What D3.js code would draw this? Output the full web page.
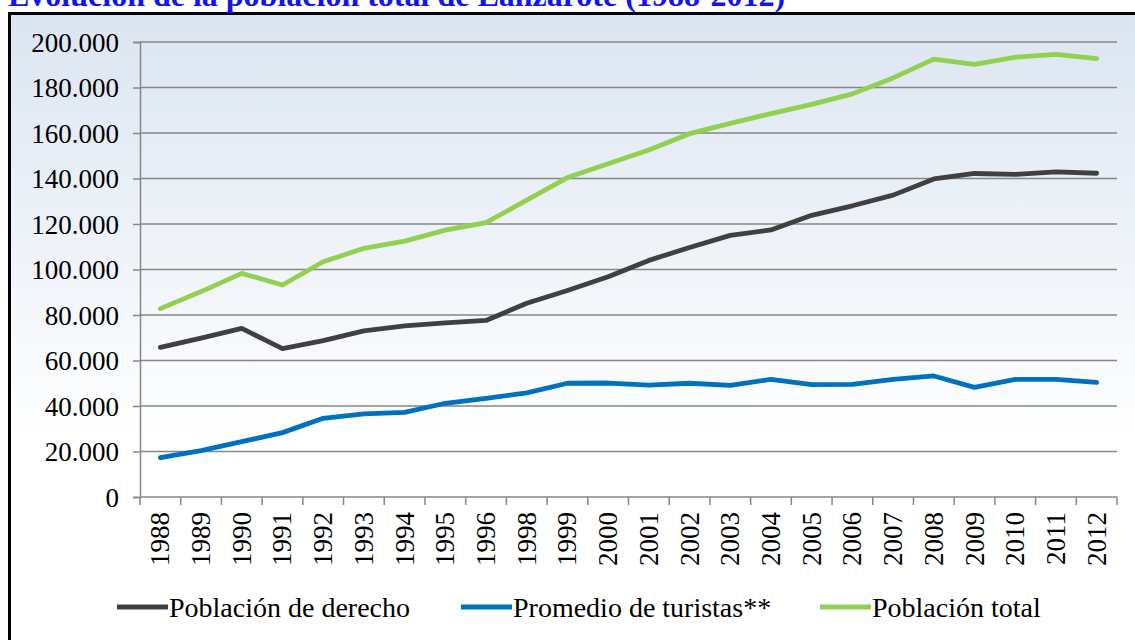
<!DOCTYPE html>
<html>
<head>
<meta charset="utf-8">
<script src="https://cdn.jsdelivr.net/npm/d3@7"></script>
<style>
  body { margin: 0; background: #fff; overflow: hidden; }
</style>
</head>
<body>
<svg class="chart"></svg>
<script>
var width = 1135;
var height = 640;
var margin = {top: 42, right: 18, bottom: 143, left: 140};
var w = width - margin.left - margin.right;
var h = height - margin.top - margin.bottom; // plot area
var serif = "'Liberation Serif', 'Times New Roman', serif";

// data
var years = ["1988", "1989", "1990", "1991", "1992", "1993", "1994", "1995", "1996", "1998",
    "1999", "2000", "2001", "2002", "2003", "2004", "2005", "2006", "2007", "2008", "2009",
    "2010", "2011", "2012"];
var derecho = [65800, 69800, 74100, 65200, 68700, 73000, 75200, 76500, 77600, 85200,
    90800, 96800, 104000, 109700, 115000, 117400, 123800, 128000, 132700, 139800, 142200,
    141800, 142900, 142300];
var turistas = [17300, 20400, 24300, 28300, 34600, 36500, 37200, 41200, 43400, 45800,
    50000, 50100, 49200, 50000, 49100, 51700, 49400, 49500, 51700, 53200, 48200,
    51700, 51700, 50400];
var total = [82800, 90300, 98300, 93200, 103400, 109300, 112500, 117300, 120600, 130500,
    140400, 146500, 152500, 159700, 164200, 168500, 172600, 177200, 184200, 192500, 190200,
    193300, 194600, 192700];
var yTicks = [0, 20000, 40000, 60000, 80000, 100000, 120000, 140000, 160000, 180000, 200000];

var seriesNames = ["Población de derecho", "Promedio de turistas**", "Población total"];
var seriesValues = [derecho, turistas, total];
var seriesColors = ["#404040", "#0070c0", "#92d050"];

var svg = d3.select(".chart")
    .attr("width", width)
    .attr("height", height)
    .attr("font-family", serif);

// background gradient of the chart frame
var grad = svg.append("defs").append("linearGradient")
    .attr("id", "bg")
    .attr("x1", 0).attr("y1", 0).attr("x2", 0).attr("y2", 1);
grad.append("stop").attr("offset", "0%").attr("stop-color", "#dbe5f1");
grad.append("stop").attr("offset", "65%").attr("stop-color", "#ffffff");
grad.append("stop").attr("offset", "100%").attr("stop-color", "#ffffff");

svg.append("rect")
    .attr("x", 9.5)
    .attr("y", 13.5)
    .attr("width", width + 20)
    .attr("height", height + 20)
    .style("fill", "url(#bg)")
    .style("stroke", "#000")
    .style("stroke-width", 3);

// title, cut off by the top edge like in the original
svg.append("text")
    .attr("x", 8)
    .attr("y", 6)
    .style("font-family", serif)
    .style("font-size", "32px")
    .style("font-weight", "bold")
    .style("fill", "#1414f0")
    .text("Evolución de la población total de Lanzarote (1988-2012)");

var plot = svg.append("g")
    .attr("transform", "translate(" + margin.left + "," + margin.top + ")");

var x = d3.scaleBand()
    .domain(years)
    .range([0, w]);

var y = d3.scaleLinear()
    .domain([0, 200000])
    .range([h, 0]);

var fmt = function(d) { return d === 0 ? "0" : d3.format(",")(d).replace(/,/g, "."); };

// horizontal gridlines
plot.append("g")
    .selectAll("line")
    .data(yTicks.slice(1))
    .enter().append("line")
    .attr("x1", 0)
    .attr("x2", w)
    .attr("y1", function(d) { return y(d); })
    .attr("y2", function(d) { return y(d); })
    .style("stroke", "#868686")
    .style("stroke-width", 1.5);

// y axis
var yAxis = plot.append("g")
    .call(d3.axisLeft(y).tickValues(yTicks).tickFormat(fmt).tickSize(7).tickPadding(14))
    .attr("font-family", serif);
yAxis.selectAll("line").style("stroke", "#868686").style("stroke-width", 1.5);
yAxis.select(".domain").style("stroke", "#868686").style("stroke-width", 1.5);
yAxis.selectAll("text")
    .style("font-size", "27px")
    .style("font-family", serif)
    .style("fill", "#000")
    .attr("dy", "0.34em");

// x axis, ticks between categories
var xAxis = plot.append("g")
    .attr("transform", "translate(0," + h + ")");
xAxis.append("line")
    .attr("x1", 0).attr("x2", w)
    .style("stroke", "#868686").style("stroke-width", 1.5);
xAxis.selectAll(".tk")
    .data(d3.range(years.length + 1))
    .enter().append("line")
    .attr("class", "tk")
    .attr("x1", function(i) { return i * x.bandwidth(); })
    .attr("x2", function(i) { return i * x.bandwidth(); })
    .attr("y1", 0).attr("y2", 8)
    .style("stroke", "#868686").style("stroke-width", 1.5);
xAxis.selectAll(".lbl")
    .data(years)
    .enter().append("text")
    .attr("class", "lbl")
    .attr("transform", function(d) {
        return "translate(" + (x(d) + x.bandwidth() / 2 + 9) + ",15) rotate(-90)";
    })
    .style("text-anchor", "end")
    .style("font-family", serif)
    .style("font-size", "27px")
    .text(function(d) { return d; });

// series lines
var line = d3.line()
    .x(function(d, i) { return x(years[i]) + x.bandwidth() / 2; })
    .y(function(d) { return y(d); });

plot.selectAll(".series")
    .data(seriesValues)
    .enter().append("path")
    .attr("class", "series")
    .attr("d", line)
    .style("fill", "none")
    .style("stroke", function(d, i) { return seriesColors[i]; })
    .style("stroke-width", 4.8)
    .style("stroke-linecap", "round")
    .style("stroke-linejoin", "round");

// legend
var legendX = [117, 461, 820];
var legend = svg.selectAll(".legend")
    .data(seriesNames)
    .enter().append("g")
    .attr("class", "legend")
    .attr("transform", function(d, i) { return "translate(" + legendX[i] + ",607)"; });
legend.append("line")
    .attr("x1", 0).attr("x2", 51)
    .style("stroke", function(d, i) { return seriesColors[i]; })
    .style("stroke-width", 4.8);
legend.append("text")
    .attr("x", 52)
    .attr("dy", "0.34em")
    .style("font-family", serif)
    .style("font-size", "28px")
    .text(function(d) { return d; });
</script>
</body>
</html>
